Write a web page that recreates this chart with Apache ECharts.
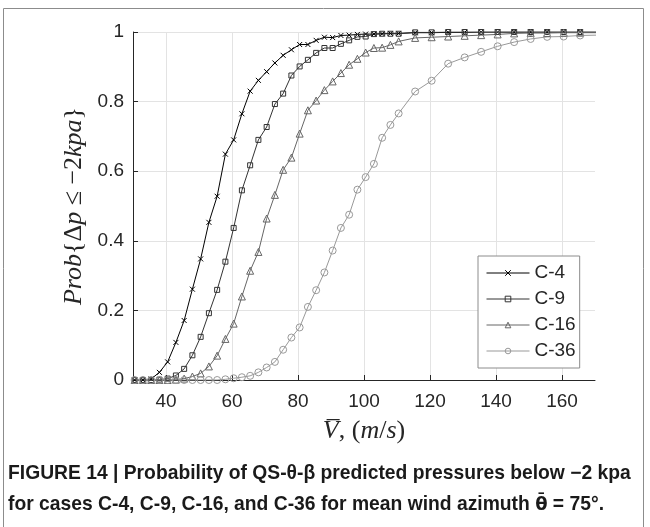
<!DOCTYPE html>
<html><head><meta charset="utf-8">
<script src="https://cdn.jsdelivr.net/npm/echarts@6/dist/echarts.min.js"></script>
<style>html,body{margin:0;padding:0;background:#fff}#c{width:650px;height:527px}</style>
</head><body><div id="c"></div>
<script>
// wind speed grid (m/s)
const V = [30.5,33,35.5,38,40.5,43,45.5,48,50.5,53,55.5,58,60.5,63,65.5,68,70.5,73,75.5,78,80.5,83,85.5,88,90.5,93,95.5,98,100.5,103,105.5,108,110.5,115.5,120.5,125.5,130.5,135.5,140.5,145.5,150.5,155.5,160.5,165.5,170.5];
const C4  = [0,0,0.003,0.022,0.052,0.108,0.171,0.261,0.348,0.453,0.528,0.649,0.690,0.765,0.830,0.861,0.886,0.911,0.933,0.949,0.964,0.964,0.976,0.985,0.984,0.990,0.991,0.993,0.994,0.994,0.995,0.996,0.996,0.998,0.998,0.999,0.999,1,1,1,1,1,1,1,1];
const C9  = [0,0,0,0.001,0.004,0.013,0.032,0.071,0.124,0.192,0.259,0.340,0.437,0.545,0.617,0.690,0.727,0.793,0.823,0.875,0.901,0.920,0.940,0.954,0.954,0.966,0.976,0.986,0.987,0.994,0.995,0.995,0.995,0.999,0.999,1,1,1,1,1,1,1,1,1,1];
const C16 = [0,0,0,0,0,0.001,0.004,0.010,0.019,0.039,0.070,0.118,0.162,0.240,0.314,0.368,0.464,0.532,0.604,0.639,0.708,0.775,0.803,0.833,0.858,0.882,0.906,0.923,0.941,0.954,0.955,0.963,0.973,0.983,0.985,0.987,0.989,0.991,0.993,0.996,0.997,0.997,0.998,0.998,0.998];
const C36 = [0,0,0,0,0,0,0,0,0,0,0,0.002,0.005,0.008,0.012,0.022,0.036,0.052,0.087,0.122,0.151,0.210,0.258,0.309,0.372,0.437,0.475,0.547,0.583,0.621,0.696,0.733,0.766,0.829,0.860,0.909,0.927,0.943,0.959,0.971,0.980,0.986,0.987,0.990,0.991];
const seriesNames = ['C-4','C-9','C-16','C-36'];
const xTicks = [40,60,80,100,120,140,160];
const yTicks = [0,0.2,0.4,0.6,0.8,1];

const chart = echarts.init(document.getElementById('c'), null, {renderer:'canvas'});
const ink = '#262626';
const styles = [
  {color:'#000000', symbol:'path://M0,0L10,10M10,0L0,10', size:5},
  {color:'#333333', symbol:'rect', size:5},
  {color:'#666666', symbol:'triangle', size:7},
  {color:'#999999', symbol:'circle', size:7}
];
const allData = [C4, C9, C16, C36];
const series = allData.map((arr, k) => ({
  name: seriesNames[k],
  type: 'line',
  data: V.map((v, i) => [v, arr[i]]),
  symbol: styles[k].symbol,
  symbolSize: styles[k].size,
  showAllSymbol: true,
  clip: true,
  lineStyle: {color: styles[k].color, width: 1},
  itemStyle: {color: 'rgba(0,0,0,0)', borderColor: styles[k].color, borderWidth: 1},
  emphasis: {disabled: true},
  animation: false
}));

const serif = 'Liberation Serif';
const lblSize = 26;
const capFont = {fontFamily: 'Liberation Sans', fontWeight: 'bold', fontSize: 19.3, fill: '#1a1a1a'};
const capTheta = {fontFamily: 'DejaVu Sans', fontWeight: 'bold', fontSize: 18, fill: '#1a1a1a'};
chart.setOption({
  backgroundColor: '#fff',
  animation: false,
  grid: {left: 133, top: 32, width: 462, height: 348, containLabel: false},
  legend: {
    orient: 'vertical', left: 478, top: 256,
    padding: [7, 4, 7, 8], itemGap: 6, itemWidth: 43, itemHeight: 7,
    backgroundColor: '#fff', borderColor: '#8c8c8c', borderWidth: 1, borderRadius: 0,
    textStyle: {fontFamily: 'Liberation Sans', fontSize: 19, color: ink, lineHeight: 20},
    data: seriesNames.map((n, k) => ({
      name: n,
      itemStyle: {color: 'rgba(0,0,0,0)', borderColor: styles[k].color, borderWidth: 1},
      lineStyle: {color: styles[k].color, width: 1}
    }))
  },
  xAxis: {
    type: 'value', min: 30, max: 170,
    name: '{i|V\u0305}{n|, (}{i|m}{n|/}{i|s}{n|)}',
    nameLocation: 'middle', nameGap: 38,
    nameTextStyle: {fontFamily: serif, fontSize: lblSize, color: ink,
      rich: {i: {fontFamily: serif, fontStyle: 'italic', fontSize: lblSize, color: ink},
             n: {fontFamily: serif, fontSize: lblSize, color: ink}}},
    axisLine: {show: true, onZero: false, lineStyle: {color: ink, width: 1}},
    axisTick: {show: true, inside: true, length: 5, customValues: xTicks, lineStyle: {color: ink}},
    axisLabel: {customValues: xTicks, fontFamily: 'Liberation Sans', fontSize: 19, color: ink, margin: 12},
    splitLine: {show: true, lineStyle: {color: '#e3e3e3', width: 1}}
  },
  yAxis: {
    type: 'value', min: 0, max: 1, interval: 0.2,
    name: '{i|Prob}{n|{Δ}{i|p}{n| ≤ −2}{i|kpa}}',
    nameLocation: 'middle', nameGap: 40, nameRotate: 90,
    nameTextStyle: {fontFamily: serif, fontSize: lblSize, color: ink,
      rich: {i: {fontFamily: serif, fontStyle: 'italic', fontSize: lblSize, color: ink},
             n: {fontFamily: serif, fontSize: lblSize, color: ink}}},
    axisLine: {show: true, onZero: false, lineStyle: {color: ink, width: 1}},
    axisTick: {show: true, inside: true, length: 5, lineStyle: {color: ink}},
    axisLabel: {fontFamily: 'Liberation Sans', fontSize: 19, color: ink, margin: 9,
      formatter: v => String(+v.toFixed(1))},
    splitLine: {show: true, lineStyle: {color: '#e3e3e3', width: 1}}
  },
  graphic: [
    {type: 'rect', shape: {x: 3.5, y: 8.5, width: 640, height: 560}, style: {fill: 'none', stroke: '#8c8c8c', lineWidth: 1}, silent: true},
    {type: 'text', x: 8, y: 474, style: {text: 'FIGURE 14 | Probability of QS-θ-β predicted pressures below −2 kpa', font: 'bold 19.3px "Liberation Sans"', fill: '#1a1a1a', verticalAlign: 'middle'}},
    {type: 'text', x: 8, y: 505, style: {
      text: '{b|for cases C-4, C-9, C-16, and C-36 for mean wind azimuth }{t|θ\u0304}{b| = 75°.}',
      verticalAlign: 'middle', fill: '#1a1a1a',
      rich: {b: capFont, t: capTheta}}}
  ],
  series: series
});
</script></body></html>
